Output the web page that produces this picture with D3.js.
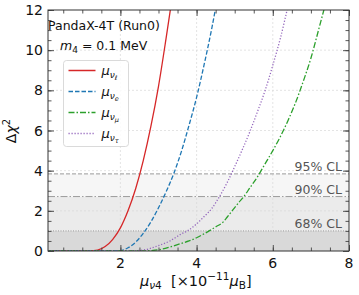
<!DOCTYPE html>
<html>
<head>
<meta charset="utf-8">
<script src="https://cdn.jsdelivr.net/npm/d3@7"></script>
<style>
  body { margin: 0; background: #fff; }
  text { font-family: "DejaVu Sans", sans-serif; }
</style>
</head>
<body>
<svg></svg>
<script>
// values (x in 1e-11 muB, y = delta chi^2)
const xNuL  = [0.1, 1.2, 1.4, 1.6, 1.8, 2.0, 2.2, 2.4, 2.6, 2.8, 3.0, 3.2, 3.35];
const yNuL  = [0, 0, 0.04, 0.22, 0.58, 1.15, 2.0, 3.1, 4.5, 6.2, 8.2, 10.6, 12.5];

const xNuE  = [0.1, 1.8, 2.0, 2.2, 2.4, 2.6, 2.8, 3.0, 3.2, 3.4, 3.6, 3.8, 4.0, 4.2, 4.4, 4.5];
const yNuE  = [0, 0, 0.02, 0.16, 0.44, 0.88, 1.45, 2.15, 2.95, 3.85, 4.95, 6.25, 7.65, 9.3, 11.1, 12.1];

const xNuMu = [0.1, 2.6, 2.8, 3.0, 3.3, 3.6, 3.8, 4.0, 4.2, 4.33, 4.5, 4.7, 4.8, 4.9, 5.0, 5.1, 5.24, 5.4, 5.6, 5.8, 6.0, 6.2, 6.4, 6.6, 6.8, 7.0, 7.2, 7.34, 7.45];
const yNuMu = [0, 0, 0.02, 0.06, 0.2, 0.38, 0.5, 0.66, 0.86, 1.0, 1.2, 1.45, 1.68, 1.92, 2.16, 2.4, 2.71, 3.15, 3.7, 4.35, 5.0, 5.7, 6.5, 7.4, 8.45, 9.6, 11.0, 12.0, 12.8];

const xNuTau = [0.1, 2.2, 2.6, 3.0, 3.3, 3.6, 3.8, 4.0, 4.2, 4.4, 4.6, 4.8, 5.0, 5.2, 5.4, 5.6, 5.8, 6.0, 6.2, 6.4, 6.5];
const yNuTau = [0, 0, 0.05, 0.27, 0.5, 0.85, 1.05, 1.35, 1.72, 2.12, 2.71, 3.4, 4.2, 5.05, 5.95, 6.95, 8.0, 9.25, 10.6, 12.2, 13.0];

const clLevels = [1.0, 2.71, 3.84];
const clLabels = ["68% CL", "90% CL", "95% CL"];
const clFills  = ["#d9d9d9", "#ebebeb", "#f6f6f6"];
const clDashes = ["1,1.5", "7,2,1.5,2", "4,2"];

const xTicks = [2, 4, 6, 8];
const yTicks = [0, 2, 4, 6, 8, 10, 12];

const series = [
  { x: xNuL,   y: yNuL,   sub: "ℓ", color: "#d62728", dash: null },
  { x: xNuE,   y: yNuE,   sub: "e", color: "#1f77b4", dash: "4.5,2" },
  { x: xNuMu,  y: yNuMu,  sub: "μ", color: "#2ca02c", dash: "6,2,1.5,2" },
  { x: xNuTau, y: yNuTau, sub: "τ", color: "#9467bd", dash: "1.2,1.8" }
];

const width = 359, height = 295;
const margin = { left: 48, right: 10, top: 10, bottom: 44 };
const pw = width - margin.left - margin.right;
const ph = height - margin.top - margin.bottom;

const svg = d3.select("svg")
    .attr("width", width)
    .attr("height", height);

const x = d3.scaleLinear().domain([0.1, 8]).range([0, pw]);
const y = d3.scaleLinear().domain([0, 12]).range([ph, 0]);

svg.append("defs").append("clipPath").attr("id", "clip")
  .append("rect").attr("width", pw).attr("height", ph);

const g = svg.append("g").attr("transform", `translate(${margin.left},${margin.top})`);

// confidence bands
const bandEdges = [0].concat(clLevels);
g.selectAll(".band")
  .data(clLevels)
  .enter().append("rect")
  .attr("x", 0)
  .attr("width", pw)
  .attr("y", d => y(d))
  .attr("height", (d, i) => y(bandEdges[i]) - y(d))
  .attr("fill", (d, i) => clFills[i]);

// grid
g.append("g")
  .selectAll("line")
  .data(xTicks.filter(t => t < 8))
  .enter().append("line")
  .attr("x1", d => x(d)).attr("x2", d => x(d))
  .attr("y1", 0).attr("y2", ph)
  .attr("stroke", "#d8d8d8").attr("stroke-width", 0.7).attr("stroke-dasharray", "2,2");
g.append("g")
  .selectAll("line")
  .data(yTicks.filter(t => t > 0 && t < 12))
  .enter().append("line")
  .attr("x1", 0).attr("x2", pw)
  .attr("y1", d => y(d)).attr("y2", d => y(d))
  .attr("stroke", "#d8d8d8").attr("stroke-width", 0.7).attr("stroke-dasharray", "2,2");

// CL lines + labels
g.selectAll(".cl")
  .data(clLevels)
  .enter().append("line")
  .attr("x1", 0).attr("x2", pw)
  .attr("y1", d => y(d)).attr("y2", d => y(d))
  .attr("stroke", "#9a9a9a").attr("stroke-width", 1)
  .attr("stroke-dasharray", (d, i) => clDashes[i]);

g.selectAll(".cltext")
  .data(clLevels)
  .enter().append("text")
  .attr("x", pw - 7)
  .attr("y", d => y(d) - 3)
  .attr("text-anchor", "end")
  .attr("font-size", 12.5)
  .attr("fill", "#555")
  .text((d, i) => clLabels[i]);

// curves
const line = d3.line()
  .x(d => x(d[0]))
  .y(d => y(d[1]))
  .curve(d3.curveMonotoneX);

const curves = g.append("g").attr("clip-path", "url(#clip)");
series.forEach(s => {
  curves.append("path")
    .datum(s.x.map((v, i) => [v, s.y[i]]))
    .attr("d", line)
    .attr("fill", "none")
    .attr("stroke", s.color)
    .attr("stroke-width", 1.3)
    .attr("stroke-dasharray", s.dash);
});

// axes with inward ticks on all sides
const minorX = d3.range(0.5, 8.01, 0.5);
const minorY = d3.range(0.5, 12.01, 0.5);

function ticks(axisFn, scale, vals, len) {
  return axisFn(scale).tickValues(vals).tickSizeInner(len).tickSizeOuter(0).tickFormat("");
}
const axes = [
  [d3.axisBottom, x, `translate(0,${ph})`],
  [d3.axisTop, x, "translate(0,0)"],
  [d3.axisLeft, y, "translate(0,0)"],
  [d3.axisRight, y, `translate(${pw},0)`]
];
axes.forEach(([fn, sc, tr]) => {
  const minor = sc === x ? minorX : minorY;
  const major = sc === x ? xTicks : yTicks;
  g.append("g").attr("transform", tr)
    .call(ticks(fn, sc, minor, -3.5))
    .call(a => a.select(".domain").remove());
  g.append("g").attr("transform", tr)
    .call(ticks(fn, sc, major, -6))
    .call(a => a.select(".domain").remove());
});
g.selectAll(".tick line").attr("stroke", "#444").attr("stroke-width", 0.9);

g.append("rect")
  .attr("width", pw).attr("height", ph)
  .attr("fill", "none").attr("stroke", "#333").attr("stroke-width", 1);

// tick labels
g.selectAll(".xl")
  .data(xTicks)
  .enter().append("text")
  .attr("x", d => x(d))
  .attr("y", ph + 17)
  .attr("text-anchor", "middle")
  .attr("font-size", 14)
  .attr("fill", "#111")
  .text(d => d);
g.selectAll(".yl")
  .data(yTicks)
  .enter().append("text")
  .attr("x", -5)
  .attr("y", d => y(d) + 5)
  .attr("text-anchor", "end")
  .attr("font-size", 14)
  .attr("fill", "#111")
  .text(d => d);

// axis titles
const xt = svg.append("text")
  .attr("x", 140).attr("y", 286)
  .attr("font-size", 14.5).attr("fill", "#111");
xt.append("tspan").attr("font-style", "italic").text("μ");
xt.append("tspan").attr("dy", 3).attr("font-size", 10.5).attr("font-style", "italic").text("ν");
xt.append("tspan").attr("font-size", 10.5).text("4");
xt.append("tspan").attr("dy", -3).text("\u00a0\u00a0[×10");
xt.append("tspan").attr("dy", -6).attr("font-size", 10.5).text("−11");
xt.append("tspan").attr("dy", 6).attr("font-style", "italic").text("μ");
xt.append("tspan").attr("dy", 3).attr("font-size", 10.5).text("B");
xt.append("tspan").attr("dy", -3).text("]");

const yt = svg.append("text")
  .attr("transform", "translate(16,131) rotate(-90)")
  .attr("text-anchor", "middle")
  .attr("font-size", 14).attr("fill", "#111");
yt.append("tspan").text("Δ");
yt.append("tspan").attr("font-style", "italic").text("χ");
yt.append("tspan").attr("dy", -6).attr("font-size", 10).text("2");

// annotations
svg.append("text")
  .attr("x", 48).attr("y", 30)
  .attr("font-size", 12.5).attr("fill", "#111")
  .text("PandaX-4T (Run0)");
const mt = svg.append("text")
  .attr("x", 60).attr("y", 50)
  .attr("font-size", 12.5).attr("fill", "#111");
mt.append("tspan").attr("font-style", "italic").text("m");
mt.append("tspan").attr("dy", 3).attr("font-size", 9).text("4");
mt.append("tspan").attr("dy", -3).text(" = 0.1 MeV");

// legend
const lg = svg.append("g").attr("transform", "translate(63.5,60.5)");
lg.append("rect")
  .attr("width", 65).attr("height", 86)
  .attr("rx", 3)
  .attr("fill", "#fff").attr("fill-opacity", 0.85)
  .attr("stroke", "#d0d0d0").attr("stroke-width", 0.8);
series.forEach((s, i) => {
  const yy = 10 + i * 21;
  lg.append("line")
    .attr("x1", 5).attr("x2", 32)
    .attr("y1", yy).attr("y2", yy)
    .attr("stroke", s.color).attr("stroke-width", 1.5)
    .attr("stroke-dasharray", s.dash);
  const t = lg.append("text")
    .attr("x", 38).attr("y", yy + 4)
    .attr("font-size", 13).attr("fill", "#111");
  t.append("tspan").attr("font-style", "italic").text("μ");
  t.append("tspan").attr("dy", 3).attr("font-size", 9).attr("font-style", "italic").text("ν");
  t.append("tspan").attr("dy", 2).attr("font-size", 6.5).attr("font-style", "italic").text(s.sub);
});
</script>
</body>
</html>
